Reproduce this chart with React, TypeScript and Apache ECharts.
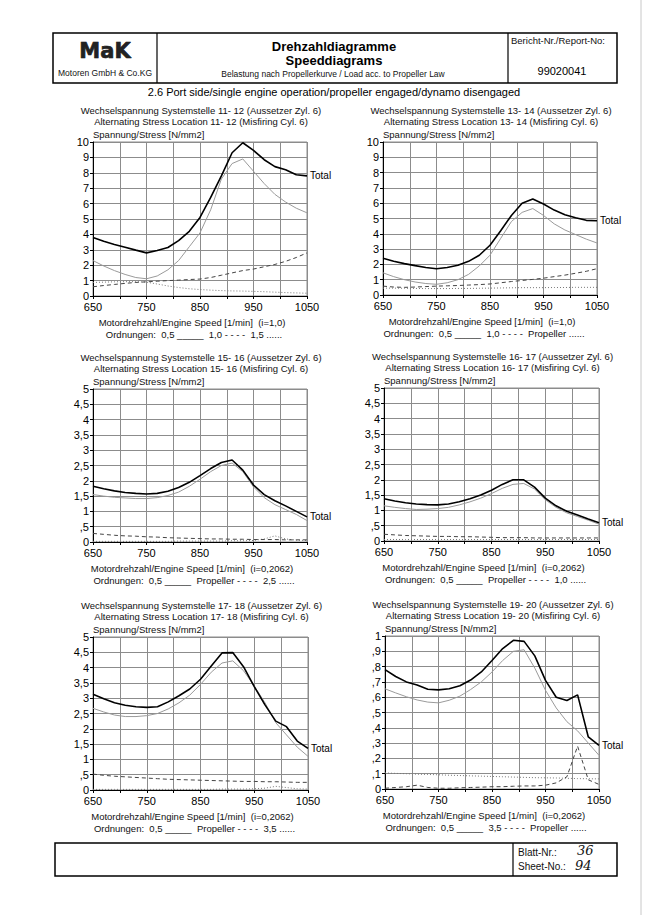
import React, { useEffect, useRef } from 'react';
import * as echarts from 'echarts';

const rpm = [650, 670, 690, 710, 730, 750, 770, 790, 810, 830, 850, 870, 890, 910, 930, 950, 970, 990, 1010, 1030, 1050];
const xTickLabels = ['650', '750', '850', '950', '1050'];

// Chart 1: location 11-12, orders 0,5 / 1,0 / 1,5
const c1Total = [3.8, 3.55, 3.35, 3.17, 2.98, 2.8, 2.95, 3.15, 3.6, 4.2, 5.1, 6.4, 7.8, 9.3, 9.95, 9.45, 8.85, 8.4, 8.2, 7.87, 7.8];
const c1O05 = [2.3, 1.95, 1.65, 1.4, 1.2, 1.12, 1.3, 1.7, 2.3, 3.2, 4.1, 5.6, 7.6, 8.6, 8.9, 8.1, 7.3, 6.6, 6.1, 5.7, 5.4];
const c1O10 = [0.6, 0.68, 0.75, 0.82, 0.88, 0.92, 0.96, 1.0, 1.03, 1.07, 1.1, 1.2, 1.35, 1.5, 1.65, 1.75, 1.9, 2.05, 2.25, 2.5, 2.8];
const c1O15 = [0.88, 0.9, 0.92, 0.93, 0.93, 0.9, 0.78, 0.65, 0.55, 0.47, 0.42, 0.38, 0.35, 0.33, 0.32, 0.3, 0.28, 0.25, 0.22, 0.2, 0.18];

// Chart 2: location 13-14
const c2Total = [2.4, 2.2, 2.05, 1.92, 1.8, 1.72, 1.8, 1.95, 2.2, 2.6, 3.25, 4.2, 5.2, 6.0, 6.28, 5.95, 5.55, 5.25, 5.05, 4.88, 4.85];
const c2O05 = [1.45, 1.2, 1.0, 0.85, 0.75, 0.7, 0.8, 1.0, 1.35, 1.9, 2.6, 3.7, 4.8, 5.4, 5.65, 5.2, 4.65, 4.25, 3.95, 3.65, 3.4];
const c2O10 = [0.58, 0.52, 0.5, 0.52, 0.55, 0.58, 0.6, 0.62, 0.65, 0.68, 0.72, 0.8, 0.88, 0.95, 1.02, 1.1, 1.2, 1.3, 1.42, 1.55, 1.72];
const c2Prop = [0.45, 0.45, 0.44, 0.43, 0.42, 0.42, 0.42, 0.43, 0.43, 0.44, 0.45, 0.46, 0.47, 0.48, 0.48, 0.48, 0.49, 0.49, 0.5, 0.5, 0.5];

// Chart 3: location 15-16, orders 0,5 / Propeller / 2,5
const c3Total = [1.82, 1.74, 1.67, 1.62, 1.59, 1.57, 1.59, 1.66, 1.78, 1.95, 2.17, 2.4, 2.6, 2.68, 2.35, 1.86, 1.55, 1.35, 1.18, 1.0, 0.82];
const c3O05 = [1.55, 1.5, 1.46, 1.44, 1.42, 1.42, 1.45, 1.52, 1.63, 1.82, 2.05, 2.3, 2.5, 2.58, 2.3, 1.8, 1.45, 1.22, 1.06, 0.9, 0.7];
const c3Prop = [0.28, 0.25, 0.22, 0.2, 0.19, 0.17, 0.16, 0.14, 0.13, 0.12, 0.11, 0.1, 0.1, 0.09, 0.09, 0.08, 0.08, 0.08, 0.07, 0.07, 0.07];
const c3O25 = [0.02, 0.02, 0.02, 0.02, 0.02, 0.02, 0.02, 0.02, 0.03, 0.03, 0.03, 0.03, 0.03, 0.04, 0.04, 0.05, 0.1, 0.2, 0.1, 0.06, 0.05];

// Chart 4: location 16-17, orders 0,5 / Propeller / 1,0
const c4Total = [1.38, 1.31, 1.25, 1.21, 1.19, 1.18, 1.21, 1.28, 1.38, 1.5, 1.66, 1.85, 2.0, 2.0, 1.76, 1.4, 1.15, 0.97, 0.85, 0.72, 0.6];
const c4O05 = [1.15, 1.1, 1.06, 1.03, 1.04, 1.06, 1.1, 1.18, 1.28, 1.4, 1.55, 1.72, 1.85, 1.88, 1.7, 1.35, 1.1, 0.92, 0.8, 0.68, 0.55];
const c4Prop = [0.22, 0.2, 0.18, 0.17, 0.16, 0.15, 0.15, 0.14, 0.14, 0.13, 0.12, 0.11, 0.11, 0.11, 0.1, 0.1, 0.1, 0.1, 0.1, 0.1, 0.1];
const c4O10 = [0.05, 0.05, 0.05, 0.05, 0.05, 0.05, 0.05, 0.05, 0.05, 0.05, 0.05, 0.05, 0.05, 0.05, 0.05, 0.05, 0.05, 0.05, 0.05, 0.05, 0.05];

// Chart 5: location 17-18, orders 0,5 / Propeller / 3,5
const c5Total = [3.13, 2.98, 2.85, 2.77, 2.72, 2.7, 2.72, 2.88, 3.08, 3.3, 3.62, 4.05, 4.48, 4.49, 4.03, 3.38, 2.78, 2.25, 2.07, 1.6, 1.36];
const c5O05 = [2.67, 2.55, 2.45, 2.4, 2.4, 2.43, 2.5, 2.65, 2.85, 3.1, 3.45, 3.85, 4.15, 4.22, 3.9, 3.4, 2.85, 2.2, 1.8, 1.4, 1.1];
const c5Prop = [0.52, 0.48, 0.45, 0.43, 0.41, 0.39, 0.37, 0.35, 0.34, 0.33, 0.32, 0.31, 0.3, 0.29, 0.28, 0.28, 0.27, 0.27, 0.26, 0.25, 0.25];
const c5O35 = [0.02, 0.02, 0.02, 0.02, 0.02, 0.02, 0.02, 0.02, 0.02, 0.02, 0.02, 0.02, 0.03, 0.03, 0.03, 0.04, 0.06, 0.12, 0.08, 0.04, 0.03];

// Chart 6: location 19-20, orders 0,5 / 3,5 / Propeller
const c6Total = [0.78, 0.735, 0.7, 0.68, 0.652, 0.648, 0.655, 0.675, 0.712, 0.765, 0.84, 0.918, 0.972, 0.965, 0.87, 0.71, 0.6, 0.578, 0.615, 0.34, 0.285];
const c6O05 = [0.655, 0.628, 0.603, 0.582, 0.568, 0.563, 0.58, 0.607, 0.65, 0.7, 0.765, 0.84, 0.9, 0.91, 0.79, 0.645, 0.53, 0.44, 0.38, 0.3, 0.22];
const c6O35 = [0.005, 0.01, 0.015, 0.025, 0.01, 0.005, 0.005, 0.008, 0.01, 0.012, 0.015, 0.015, 0.018, 0.02, 0.02, 0.025, 0.04, 0.08, 0.28, 0.06, 0.03];
const c6Prop = [0.105, 0.102, 0.1, 0.097, 0.095, 0.093, 0.09, 0.088, 0.086, 0.084, 0.082, 0.08, 0.078, 0.076, 0.074, 0.073, 0.072, 0.07, 0.068, 0.067, 0.066];

const titles1 = [
  'Wechselspannung Systemstelle 11- 12 (Aussetzer Zyl. 6)',
  'Wechselspannung Systemstelle 13- 14 (Aussetzer Zyl. 6)',
  'Wechselspannung Systemstelle 15- 16 (Aussetzer Zyl. 6)',
  'Wechselspannung Systemstelle 16- 17 (Aussetzer Zyl. 6)',
  'Wechselspannung Systemstelle 17- 18 (Aussetzer Zyl. 6)',
  'Wechselspannung Systemstelle 19- 20 (Aussetzer Zyl. 6)',
];
const titles2 = [
  'Alternating Stress Location 11- 12 (Misfiring Cyl. 6)',
  'Alternating Stress Location 13- 14 (Misfiring Cyl. 6)',
  'Alternating Stress Location 15- 16 (Misfiring Cyl. 6)',
  'Alternating Stress Location 16- 17 (Misfiring Cyl. 6)',
  'Alternating Stress Location 17- 18 (Misfiring Cyl. 6)',
  'Alternating Stress Location 19- 20 (Misfiring Cyl. 6)',
];
const xNames = [
  'Motordrehzahl/Engine Speed [1/min]  (i=1,0)',
  'Motordrehzahl/Engine Speed [1/min]  (i=1,0)',
  'Motordrehzahl/Engine Speed [1/min]  (i=0,2062)',
  'Motordrehzahl/Engine Speed [1/min]  (i=0,2062)',
  'Motordrehzahl/Engine Speed [1/min]  (i=0,2062)',
  'Motordrehzahl/Engine Speed [1/min]  (i=0,2062)',
];
const legends = [
  'Ordnungen:  0,5 _____  1,0 - - - -  1,5 ......',
  'Ordnungen:  0,5 _____  1,0 - - - -  Propeller ......',
  'Ordnungen:  0,5 _____  Propeller - - - -  2,5 ......',
  'Ordnungen:  0,5 _____  Propeller - - - -  1,0 ......',
  'Ordnungen:  0,5 _____  Propeller - - - -  3,5 ......',
  'Ordnungen:  0,5 _____  3,5 - - - -  Propeller ......',
];
const yMax = [10, 10, 5, 5, 5, 1];
const yStep = [1, 1, 0.5, 0.5, 0.5, 0.1];

const FONT = "'Liberation Sans', Arial, sans-serif";

const grids = [
  { left: 93, top: 142, width: 214, height: 154 },
  { left: 383, top: 142, width: 214, height: 153 },
  { left: 93, top: 389, width: 214, height: 153 },
  { left: 384, top: 388, width: 215, height: 153 },
  { left: 93, top: 637, width: 215, height: 153 },
  { left: 385, top: 636, width: 214, height: 153 },
];

const deFmt = (v: number) => {
  const r = Math.round(v * 100) / 100;
  if (r === 0) return '0';
  if (Number.isInteger(r)) return String(r);
  let s = String(r).replace('.', ',');
  if (s.startsWith('0,')) s = s.slice(1);
  return s;
};

const pairs = (arr: number[]) => arr.map((v, i) => [rpm[i], v]);

export default function App() {
  const ref = useRef<HTMLDivElement>(null);
  useEffect(() => {
    if (!ref.current) return;
    const chart = echarts.init(ref.current, undefined, { renderer: 'svg' });

    const chartSeries: { total: number[]; o05: number[]; dash: number[]; dot: number[] }[] = [
      { total: c1Total, o05: c1O05, dash: c1O10, dot: c1O15 },
      { total: c2Total, o05: c2O05, dash: c2O10, dot: c2Prop },
      { total: c3Total, o05: c3O05, dash: c3Prop, dot: c3O25 },
      { total: c4Total, o05: c4O05, dash: c4Prop, dot: c4O10 },
      { total: c5Total, o05: c5O05, dash: c5Prop, dot: c5O35 },
      { total: c6Total, o05: c6O05, dash: c6O35, dot: c6Prop },
    ];

    const xAxis: any[] = [];
    const yAxis: any[] = [];
    const series: any[] = [];
    const graphic: any[] = [];

    grids.forEach((g, i) => {
      xAxis.push({
        type: 'value', gridIndex: i, min: 650, max: 1050, interval: 50,
        axisLine: { show: true, lineStyle: { color: '#000', width: 1 } },
        axisTick: { show: true, length: 3, lineStyle: { color: '#000' } },
        splitLine: { show: true, lineStyle: { color: '#8c8c8c', width: 1 } },
        axisLabel: {
          fontSize: 11, color: '#000', fontFamily: FONT, margin: 5,
          formatter: (v: number) => { const s = String(v); return xTickLabels.includes(s) ? s : ''; },
        },
      });
      yAxis.push({
        type: 'value', gridIndex: i, min: 0, max: yMax[i], interval: yStep[i],
        axisLine: { show: true, lineStyle: { color: '#000', width: 1 } },
        axisTick: { show: true, length: 3, lineStyle: { color: '#000' } },
        splitLine: { show: true, lineStyle: { color: '#8c8c8c', width: 1 } },
        axisLabel: { fontSize: 11, color: '#000', fontFamily: FONT, margin: 4, formatter: deFmt },
      });
      const s = chartSeries[i];
      const base = { type: 'line', xAxisIndex: i, yAxisIndex: i, symbol: 'none', silent: true };
      series.push({ ...base, name: 'dot' + i, data: pairs(s.dot), lineStyle: { color: '#777', width: 1, type: [1, 2] } });
      series.push({ ...base, name: 'dash' + i, data: pairs(s.dash), lineStyle: { color: '#444', width: 1, type: [4, 3] } });
      series.push({ ...base, name: 'o05' + i, data: pairs(s.o05), lineStyle: { color: '#9a9a9a', width: 1 } });
      series.push({
        ...base, name: 'Total' + i, data: pairs(s.total), lineStyle: { color: '#000', width: 1.6 },
        endLabel: { show: true, formatter: 'Total', color: '#000', fontSize: 10, fontFamily: FONT, distance: 3 },
      });

      const cx = g.left + g.width / 2;
      graphic.push(
        { type: 'text', style: { text: titles1[i], x: cx + 1, y: g.top - 32, fill: '#111', fontSize: 9.5, fontFamily: FONT, textAlign: 'center', textVerticalAlign: 'middle' } },
        { type: 'text', style: { text: titles2[i], x: cx + 1, y: g.top - 21, fill: '#111', fontSize: 9.5, fontFamily: FONT, textAlign: 'center', textVerticalAlign: 'middle' } },
        { type: 'text', style: { text: 'Spannung/Stress [N/mm2]', x: g.left, y: g.top - 8, fill: '#111', fontSize: 9.5, fontFamily: FONT, textAlign: 'left', textVerticalAlign: 'middle' } },
        { type: 'text', style: { text: xNames[i], x: cx - 8, y: g.top + g.height + 26, fill: '#111', fontSize: 9.5, fontFamily: FONT, textAlign: 'center', textVerticalAlign: 'middle' } },
        { type: 'text', style: { text: legends[i], x: cx - 6, y: g.top + g.height + 38, fill: '#111', fontSize: 9.5, fontFamily: FONT, textAlign: 'center', textVerticalAlign: 'middle' } },
      );
    });

    // Header box
    graphic.push(
      { type: 'rect', shape: { x: 53, y: 33, width: 564, height: 50 }, style: { fill: 'none', stroke: '#000', lineWidth: 1.5 } },
      { type: 'line', shape: { x1: 157, y1: 33, x2: 157, y2: 83 }, style: { stroke: '#000', lineWidth: 1.2 } },
      { type: 'line', shape: { x1: 508, y1: 33, x2: 508, y2: 83 }, style: { stroke: '#000', lineWidth: 1.2 } },
      { type: 'text', style: { text: 'MaK', x: 105, y: 51, fill: '#222', stroke: '#000', lineWidth: 0.6, fontSize: 21, fontWeight: 'bold', fontFamily: "'DejaVu Sans', sans-serif", textAlign: 'center', textVerticalAlign: 'middle' } },
      { type: 'text', style: { text: 'Motoren GmbH & Co.KG', x: 105, y: 73, fill: '#111', fontSize: 8.5, fontFamily: FONT, textAlign: 'center', textVerticalAlign: 'middle' } },
      { type: 'text', style: { text: 'Drehzahldiagramme', x: 334, y: 46, fill: '#000', fontSize: 13, fontWeight: 'bold', fontFamily: FONT, textAlign: 'center', textVerticalAlign: 'middle' } },
      { type: 'text', style: { text: 'Speeddiagrams', x: 334, y: 60, fill: '#000', fontSize: 13, fontWeight: 'bold', fontFamily: FONT, textAlign: 'center', textVerticalAlign: 'middle' } },
      { type: 'text', style: { text: 'Belastung nach Propellerkurve / Load acc. to Propeller Law', x: 333, y: 74, fill: '#111', fontSize: 8.5, fontFamily: FONT, textAlign: 'center', textVerticalAlign: 'middle' } },
      { type: 'text', style: { text: 'Bericht-Nr./Report-No:', x: 511, y: 40, fill: '#111', fontSize: 9.5, fontFamily: FONT, textAlign: 'left', textVerticalAlign: 'middle' } },
      { type: 'text', style: { text: '99020041', x: 562, y: 71, fill: '#000', fontSize: 11, fontFamily: FONT, textAlign: 'center', textVerticalAlign: 'middle' } },
      { type: 'text', style: { text: '2.6 Port side/single engine operation/propeller engaged/dynamo disengaged', x: 334, y: 92, fill: '#000', fontSize: 11, fontFamily: FONT, textAlign: 'center', textVerticalAlign: 'middle' } },
      // Footer box
      { type: 'rect', shape: { x: 55, y: 843, width: 562, height: 33 }, style: { fill: 'none', stroke: '#000', lineWidth: 1.5 } },
      { type: 'line', shape: { x1: 513, y1: 843, x2: 513, y2: 876 }, style: { stroke: '#000', lineWidth: 1.2 } },
      { type: 'text', style: { text: 'Blatt-Nr.:', x: 518, y: 852, fill: '#111', fontSize: 10, fontFamily: FONT, textAlign: 'left', textVerticalAlign: 'middle' } },
      { type: 'text', style: { text: 'Sheet-No.:', x: 518, y: 866, fill: '#111', fontSize: 10, fontFamily: FONT, textAlign: 'left', textVerticalAlign: 'middle' } },
      { type: 'text', style: { text: '36', x: 577, y: 850, fill: '#111', fontSize: 13, fontStyle: 'italic', fontFamily: "'DejaVu Serif', serif", textAlign: 'left', textVerticalAlign: 'middle' } },
      { type: 'text', style: { text: '94', x: 575, y: 865, fill: '#111', fontSize: 13, fontStyle: 'italic', fontFamily: "'DejaVu Serif', serif", textAlign: 'left', textVerticalAlign: 'middle' } },
      // scan edge
      { type: 'line', shape: { x1: 641, y1: 0, x2: 641, y2: 915 }, style: { stroke: '#c8c8c8', lineWidth: 1 } },
    );

    chart.setOption({
      animation: false,
      backgroundColor: '#fff',
      grid: grids.map(g => ({ ...g, show: true, borderColor: '#8c8c8c', borderWidth: 1, backgroundColor: 'transparent' })),
      xAxis,
      yAxis,
      series,
      graphic,
    });
    return () => chart.dispose();
  }, []);

  return (
    <div style={{ position: 'absolute', left: 0, top: 0, width: 647, height: 915, background: '#fff' }}>
      <div ref={ref} style={{ width: 647, height: 915 }} />
    </div>
  );
}
